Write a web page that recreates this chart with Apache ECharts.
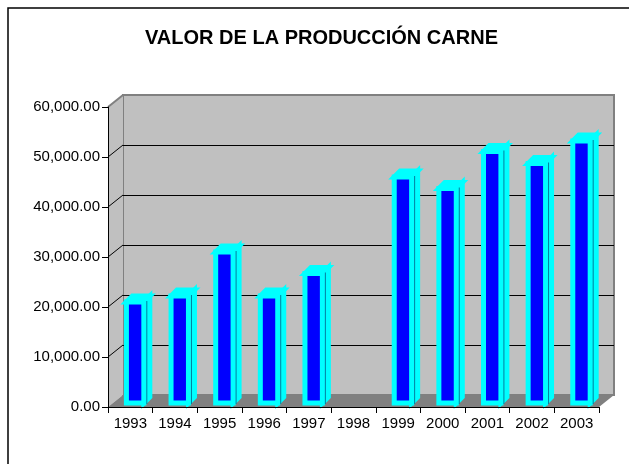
<!DOCTYPE html>
<html>
<head>
<meta charset="utf-8">
<script src="https://cdn.jsdelivr.net/npm/echarts@6/dist/echarts.min.js"></script>
<style>
  html, body { margin: 0; padding: 0; background: #fff; }
  #chart { width: 629px; height: 464px; }
</style>
</head>
<body>
<div id="chart"></div>
<script>
const categories = ['1993', '1994', '1995', '1996', '1997', '1998', '1999', '2000', '2001', '2002', '2003'];
const values = [20200, 21400, 30200, 21400, 25900, null, 45200, 42900, 50300, 47900, 52400];
const yTicks = [0, 10000, 20000, 30000, 40000, 50000, 60000];

// 3d look: back wall sits this far behind the front axes
const DX = 15;
const DY = -12;
// bar depth
const BX = 6;
const BY = -6;

const chart = echarts.init(document.getElementById('chart'));

const fmt = (v) => String(v).replace(/\B(?=(\d{3})+(?!\d))/g, ',') + '.00';

const renderWalls = (params, api) => {
  const cs = params.coordSys;
  const x0 = cs.x;
  const x1 = cs.x + cs.width;
  const yb = api.coord([0, 0])[1];
  const yt = api.coord([0, yTicks[yTicks.length - 1]])[1];
  const children = [
    {
      type: 'polygon',
      shape: { points: [[x0, yt], [x0 + DX, yt + DY], [x0 + DX, yb + DY], [x0, yb]] },
      style: { fill: '#c0c0c0' }
    },
    {
      type: 'polygon',
      shape: { points: [[x0, yb], [x1, yb], [x1 + DX, yb + DY], [x0 + DX, yb + DY]] },
      style: { fill: '#808080' }
    },
    {
      type: 'line',
      shape: { x1: x0, y1: yt, x2: x0 + DX, y2: yt + DY },
      style: { stroke: '#808080', lineWidth: 2 }
    }
  ];
  yTicks.slice(1, -1).forEach(t => {
    const y = api.coord([0, t])[1];
    children.push({
      type: 'line',
      shape: { x1: x0, y1: y, x2: x0 + DX, y2: y + DY },
      style: { stroke: '#000', lineWidth: 1 }
    });
  });
  return { type: 'group', children };
};

const renderBar = (params, api) => {
  const v = api.value(1);
  if (isNaN(v)) return;
  const i = api.value(0);
  const top = api.coord([i, v]);
  const base = api.coord([i, 0]);
  const w = api.size([1, 0])[0] * 0.39;
  const l = top[0] + 4.8 - w / 2;
  const r = l + w;
  const t = top[1] - 4;
  const b = base[1] - 4;
  const cyan = { fill: '#00ffff', stroke: '#00ffff', lineWidth: 5, lineJoin: 'miter' };
  return {
    type: 'group',
    children: [
      {
        type: 'polygon',
        shape: { points: [[r, b], [r, t], [r + BX, t + BY], [r + BX, b + BY]] },
        style: cyan
      },
      {
        type: 'polygon',
        shape: { points: [[l, t], [r, t], [r + BX, t + BY], [l + BX, t + BY]] },
        style: cyan
      },
      {
        type: 'rect',
        shape: { x: l, y: t, width: w, height: b - t },
        style: { fill: '#0000ff', stroke: '#00ffff', lineWidth: 5 }
      },
      {
        type: 'line',
        shape: { x1: r + 3, y1: b + 1, x2: r + 3, y2: t - 1 },
        style: { stroke: '#007f9f', lineWidth: 1 }
      }
    ]
  };
};

const option = {
  animation: false,
  backgroundColor: '#fff',
  title: {
    text: 'VALOR DE LA PRODUCCIÓN CARNE',
    left: 145,
    top: 28,
    padding: 0,
    textStyle: {
      fontFamily: 'Arial, "Liberation Sans", sans-serif',
      fontSize: 20,
      fontWeight: 'bold',
      color: '#000'
    }
  },
  graphic: [
    {
      type: 'rect',
      z: -10,
      shape: { x: 8, y: 8, width: 800, height: 600 },
      style: { fill: 'none', stroke: '#000', lineWidth: 1.5 }
    }
  ],
  grid: [
    { left: 108, right: 30, top: 107, bottom: 57 },
    {
      left: 108 + DX, right: 30 - DX, top: 107 + DY, bottom: 57 - DY,
      show: true, backgroundColor: '#c0c0c0', borderColor: '#808080', borderWidth: 2
    }
  ],
  xAxis: [
    {
      type: 'category',
      gridIndex: 0,
      data: categories,
      z: 5,
      axisLine: { lineStyle: { color: '#000', width: 1 } },
      axisTick: { show: true, length: 6, interval: 0, lineStyle: { color: '#000' } },
      axisLabel: {
        interval: 0,
        margin: 9,
        color: '#000',
        fontSize: 15,
        fontFamily: 'Arial, "Liberation Sans", sans-serif'
      },
      splitLine: { show: false }
    },
    {
      type: 'category',
      gridIndex: 1,
      data: categories,
      show: false
    }
  ],
  yAxis: [
    {
      type: 'value',
      gridIndex: 0,
      min: 0,
      max: 60000,
      interval: 10000,
      z: 5,
      axisLine: { show: true, lineStyle: { color: '#000', width: 1 } },
      axisTick: { show: true, length: 6, lineStyle: { color: '#000' } },
      axisLabel: {
        margin: 8,
        color: '#000',
        fontSize: 15,
        fontFamily: 'Arial, "Liberation Sans", sans-serif',
        formatter: fmt
      },
      splitLine: { show: false }
    },
    {
      type: 'value',
      gridIndex: 1,
      min: 0,
      max: 60000,
      interval: 10000,
      axisLine: { show: false },
      axisTick: { show: false },
      axisLabel: { show: false },
      splitLine: {
        show: true,
        showMinLine: false,
        showMaxLine: false,
        lineStyle: { color: '#000', width: 1 }
      }
    }
  ],
  series: [
    {
      name: 'walls',
      type: 'custom',
      xAxisIndex: 0,
      yAxisIndex: 0,
      z: 1,
      silent: true,
      renderItem: renderWalls,
      data: [[0, 0]]
    },
    {
      name: 'Valor',
      type: 'custom',
      xAxisIndex: 0,
      yAxisIndex: 0,
      z: 2,
      clip: false,
      renderItem: renderBar,
      data: values.map((v, i) => [i, v == null ? '-' : v])
    }
  ]
};

chart.setOption(option);
</script>
</body>
</html>
